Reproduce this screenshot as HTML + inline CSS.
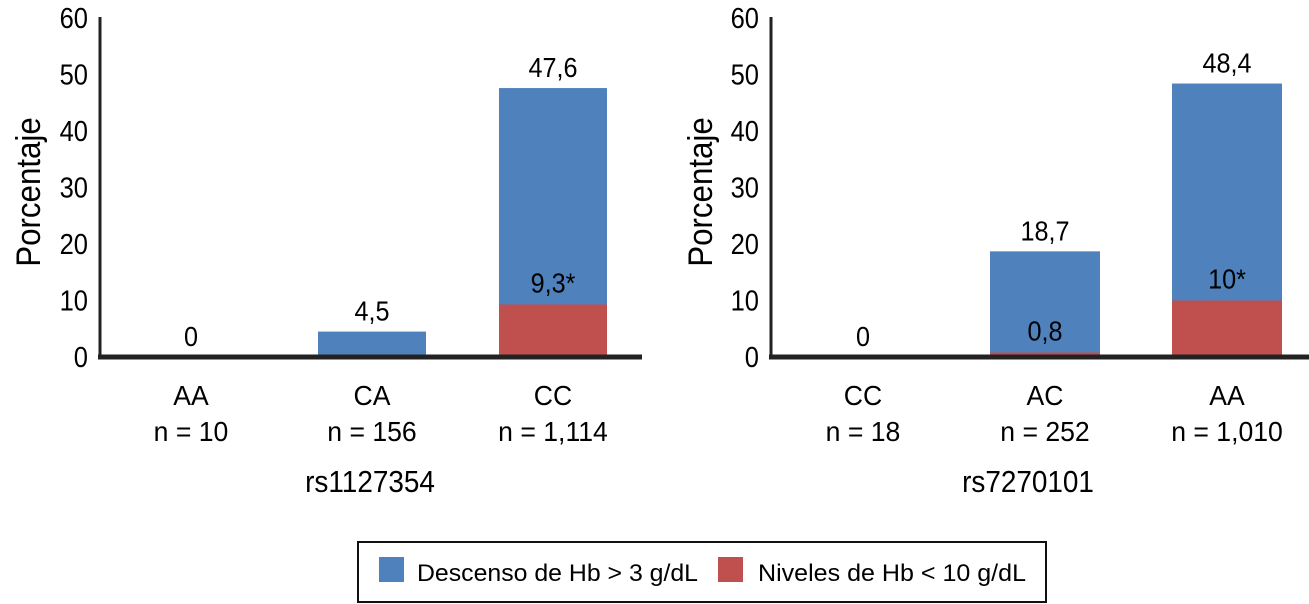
<!DOCTYPE html>
<html><head><meta charset="utf-8"><style>
html,body{margin:0;padding:0;background:#fff;}
svg{display:block;font-family:"Liberation Sans",sans-serif;}
</style></head><body>
<svg id="chart" width="1309" height="604" viewBox="0 0 1309 604"></svg>
<script>
const leftCategories = ["AA","CA","CC"];
const leftN = ["n = 10","n = 156","n = 1,114"];
const leftDescenso = [0, 4.5, 47.6];
const leftNiveles = [0, 0, 9.3];
const leftTopLabels = ["0","4,5","47,6"];
const leftInnerLabels = ["","","9,3*"];

const rightCategories = ["CC","AC","AA"];
const rightN = ["n = 18","n = 252","n = 1,010"];
const rightDescenso = [0, 18.7, 48.4];
const rightNiveles = [0, 0.8, 10];
const rightTopLabels = ["0","18,7","48,4"];
const rightInnerLabels = ["","0,8","10*"];

const yTicks = [0,10,20,30,40,50,60];

const NS="http://www.w3.org/2000/svg";
const svg=document.getElementById('chart');
function mk(tag,attrs,parent){const e=document.createElementNS(NS,tag);for(const k in attrs)e.setAttribute(k,attrs[k]);(parent||svg).appendChild(e);return e;}
function ctxt(s,x,yy,size,anchor,parent,sx){const e=mk('text',{x:0,y:0,'text-anchor':anchor,'font-size':size,transform:`translate(${x},${yy}) scale(${sx||0.9},1)`},parent);e.textContent=s;return e;}

const BASE=357, K=5.65;
function y(v){return BASE - v*K;}

function panel(cfg){
  const g=mk('g',{});
  
  
  const xPos=i=>cfg.bx0 + i*cfg.step;
  cfg.cats.forEach((c,i)=>{
    const x0=xPos(i), w=cfg.bw;
    if(cfg.desc[i]>0){
      const r=mk('rect',{x:x0,y:y(cfg.desc[i]),width:w,height:cfg.desc[i]*K,fill:'#4F81BD'},g);
      
      
    }
    if(cfg.niv[i]>0){
      const r=mk('rect',{x:x0,y:y(cfg.niv[i]),width:w,height:cfg.niv[i]*K,fill:'#C0504D'},g);
      
      
    }
    const cx=x0+w/2;
    const t=ctxt(cfg.top[i],cx,y(cfg.desc[i])-11,28,'middle',g);
    
    
    if(cfg.inner[i]){
      const t2=ctxt(cfg.inner[i],cx,y(cfg.niv[i])-12,28,'middle',g);
      
      
    }
    const t3=ctxt(c,cx,405,28,'middle',g,0.95);
    
    
    const t4=ctxt(cfg.n[i],cx,441,28,'middle',g,0.95);
    
    
  });
  const ya=mk('line',{x1:cfg.ax,y1:17,x2:cfg.ax,y2:BASE+2,stroke:'#222','stroke-width':3},g);
  
  
  const xa=mk('line',{x1:cfg.ax-2,y1:BASE,x2:cfg.axEnd,y2:BASE,stroke:'#222','stroke-width':5},g);
  
  
  yTicks.forEach(v=>{
    const t=ctxt(String(v),cfg.ax-12,y(v)+10,29,'end',g,0.88);
    
    
  });
  const yt=mk('text',{x:0,y:0,'text-anchor':'middle','font-size':34,transform:`translate(${cfg.ytx},192) rotate(-90) scale(0.92,1)`},g);
  yt.textContent='Porcentaje';
  
  
  const xt=ctxt(cfg.title,cfg.titleX,492,31,'middle',g,0.9);
  
  
}

panel({name:'panel-rs1127354',cats:leftCategories,n:leftN,desc:leftDescenso,niv:leftNiveles,top:leftTopLabels,inner:leftInnerLabels,
  bx0:137,step:181,bw:108,ax:100,axEnd:642,ytx:40,title:'rs1127354',titleX:370});
panel({name:'panel-rs7270101',cats:rightCategories,n:rightN,desc:rightDescenso,niv:rightNiveles,top:rightTopLabels,inner:rightInnerLabels,
  bx0:808,step:182,bw:110,ax:771,axEnd:1309,ytx:712,title:'rs7270101',titleX:1028});

const lg=mk('g',{});


mk('rect',{x:358,y:542,width:688,height:60,fill:'#fff',stroke:'#111','stroke-width':2},lg);
const s1=mk('rect',{x:379,y:557,width:25,height:25,fill:'#4F81BD'},lg);


const l1=mk('text',{x:417,y:581,'font-size':24,textLength:281,lengthAdjust:'spacingAndGlyphs'},lg);
l1.textContent='Descenso de Hb > 3 g/dL';


const s2=mk('rect',{x:718,y:557,width:25,height:25,fill:'#C0504D'},lg);


const l2=mk('text',{x:758,y:581,'font-size':24,textLength:268,lengthAdjust:'spacingAndGlyphs'},lg);
l2.textContent='Niveles de Hb < 10 g/dL';


</script>
</body></html>
